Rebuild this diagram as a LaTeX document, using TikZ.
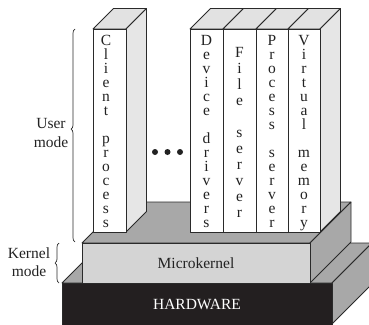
\documentclass[tikz,border=0pt]{standalone}
\usepackage{fontspec}
\setmainfont{Liberation Serif}
\usetikzlibrary{decorations.pathreplacing}
\definecolor{edge}{HTML}{2A2A2A}
\definecolor{ink}{HTML}{222222}
\definecolor{colside}{HTML}{E6E6E6}
\definecolor{coltop}{HTML}{E2E2E2}
\definecolor{mkfront}{HTML}{D4D4D4}
\definecolor{mkside}{HTML}{A8A8A8}
\definecolor{hwfront}{HTML}{231F20}
\begin{document}
\begin{tikzpicture}[x=1pt,y=-1pt,line join=round,
  face/.style={draw=edge,line width=0.8pt},
  frontbox/.style={face,inner sep=0pt,outer sep=0pt,anchor=north west},
  letter/.style={inner sep=0pt,anchor=base,text=ink,font=\fontsize{15.5}{18}\selectfont},
  lbl/.style={inner sep=0pt,align=center,text=ink,font=\fontsize{15.5}{18.5}\selectfont},
  dot/.style={circle,fill=ink,inner sep=0pt,minimum size=6pt},
  bracedeco/.style={draw=edge,line width=0.7pt,decorate,decoration={brace,amplitude=4pt}}]
\useasboundingbox (0,0) rectangle (369,324);
\begin{scope}
\clip (0,0) rectangle (369,324);
% hardware
\path[face,fill=mkside] (62,283) -- (332,283) -- (372,243) -- (102,243) -- cycle;
\path[face,fill=mkside] (332,283) -- (372,243) -- (372,284) -- (332,324) -- cycle;
\node[frontbox,fill=hwfront,minimum width=270pt,minimum height=42pt,text=white,
  font=\fontsize{15.5}{18}\selectfont] (hw) at (62,283) {HARDWARE};
% microkernel
\path[face,fill=mkside] (82,243) -- (310,243) -- (351,202) -- (123,202) -- cycle;
\path[face,fill=mkside] (310,243) -- (351,202) -- (351,242) -- (310,283) -- cycle;
\node[frontbox,fill=mkfront,minimum width=228pt,minimum height=40pt,text=ink,
  font=\fontsize{15.5}{18}\selectfont] (mk) at (82,243) {Microkernel};
% client column
\path[face,fill=coltop] (93,29) -- (126,29) -- (146.5,8.5) -- (113.5,8.5) -- cycle;
\path[face,fill=colside] (126,29) -- (146.5,8.5) -- (146.5,211.5) -- (126,232) -- cycle;
\node[frontbox,fill=white,minimum width=33pt,minimum height=203pt] (cp) at (93,29) {};
% server group
\foreach \xa/\xb in {190/223,223/256,256/288,288/320}
  \path[face,fill=coltop] (\xa,29) -- (\xb,29) -- (\xb+20.5,8.5) -- (\xa+20.5,8.5) -- cycle;
\path[face,fill=colside] (320,29) -- (340.5,8.5) -- (340.5,211.5) -- (320,232) -- cycle;
\node[frontbox,fill=white,minimum width=33pt,minimum height=203pt] (dd) at (190,29) {};
\node[frontbox,fill=white,minimum width=33pt,minimum height=203pt] (fs) at (223,29) {};
\node[frontbox,fill=white,minimum width=32pt,minimum height=203pt] (ps) at (256,29) {};
\node[frontbox,fill=white,minimum width=32pt,minimum height=203pt] (vm) at (288,29) {};
\end{scope}
% vertical texts
\foreach \ch/\k in {C/0,l/1,i/2,e/3,n/4,t/5,p/7,r/8,o/9,c/10,e/11,s/12,s/13}
  \node[letter] (cpl\k) at (106,45+14*\k) {\ch};
\foreach \ch/\k in {D/0,e/1,v/2,i/3,c/4,e/5,d/7,r/8,i/9,v/10,e/11,r/12,s/13}
  \node[letter] (ddl\k) at (206.5,45+14*\k) {\ch};
\foreach \ch/\k in {F/0,i/1,l/2,e/3,s/5,e/6,r/7,v/8,e/9,r/10}
  \node[letter] (fsl\k) at (239.5,57+16*\k) {\ch};
\foreach \ch/\k in {P/0,r/1,o/2,c/3,e/4,s/5,s/6,s/8,e/9,r/10,v/11,e/12,r/13}
  \node[letter] (psl\k) at (272,45+14*\k) {\ch};
\foreach \ch/\k in {V/0,i/1,r/2,t/3,u/4,a/5,l/6,m/8,e/9,m/10,o/11,r/12,y/13}
  \node[letter] (vml\k) at (304,45+14*\k) {\ch};
% dots
\node[dot] (dot1) at (155,152) {};
\node[dot] (dot2) at (167.5,152) {};
\node[dot] (dot3) at (180,152) {};
% braces
\coordinate (ub) at (75,242);
\coordinate (ut) at (75,29);
\coordinate (kb) at (59,283);
\coordinate (kt) at (59,243);
\draw[bracedeco,decoration={aspect=0.53}] (ub) -- (ut);
\draw[bracedeco] (kb) -- (kt);
\node[lbl] (user) at (51,133) {User\\mode};
\node[lbl] (kern) at (29,262) {Kernel\\mode};
\end{tikzpicture}
\end{document}
